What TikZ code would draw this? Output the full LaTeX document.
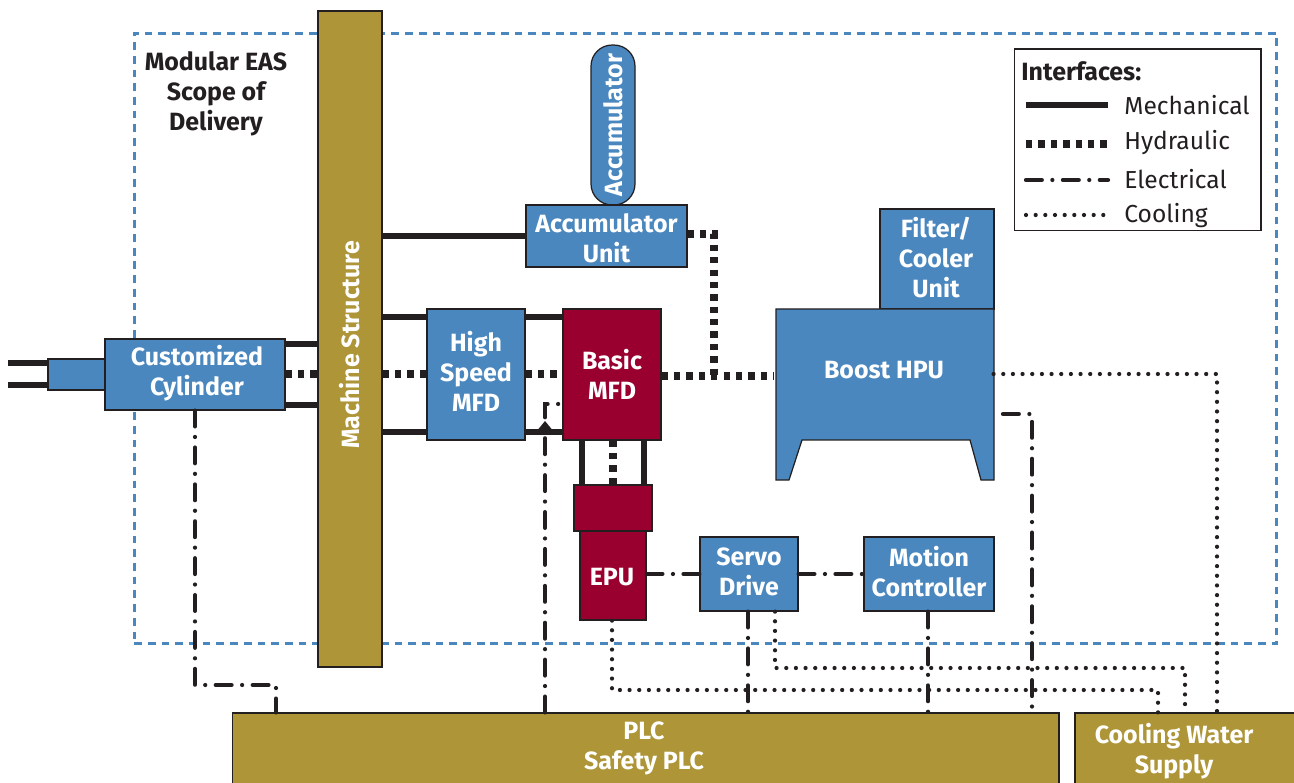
\documentclass[tikz,border=0pt]{standalone}
\usepackage{fontspec}
\usepackage{graphicx}
\setmainfont{Fira Sans}
\definecolor{easblue}{HTML}{4A87BE}
\definecolor{easred}{HTML}{990030}
\definecolor{easgold}{HTML}{AE9537}
\definecolor{easink}{HTML}{231F20}
\tikzset{
  boxsize/.style 2 args={minimum width=#1*0.569pt,minimum height=#2*0.569pt},
  box/.style={draw=easink,line width=.7pt,inner sep=0pt,align=center,text=white,
    font=\fontsize{14.2}{17}\selectfont\bfseries},
  bluebox/.style={box,fill=easblue},
  redbox/.style={box,fill=easred},
  goldbox/.style={box,fill=easgold},
  boxtext/.style={box,draw=none},
  mech/.style={draw=easink,line width=3.1pt},
  hydr/.style={draw=easink,line width=4.6pt,dash pattern=on 3.6pt off 3.45pt},
  elec/.style={draw=easink,line width=2.4pt,line cap=round,dash pattern=on 9pt off 6pt on 0pt off 6pt},
  cooling/.style={draw=easink,line width=2.4pt,line cap=round,dash pattern=on 0pt off 5.5pt},
  legendtext/.style={anchor=west,inner sep=0pt,text=easink,font=\fontsize{14}{17}\selectfont},
}
\begin{document}
\begin{tikzpicture}[x=0.02cm,y=-0.02cm]
\useasboundingbox (0,0) rectangle (1294,783);
\node (scope)[boxsize={1143}{611},draw=easblue,line width=1.7pt,dash pattern=on 4.4pt off 3.4pt] at (705.5,338.5) {};
\node (scopetext)[inner sep=0pt,align=center,text=easink,font=\fontsize{14.2}{17}\selectfont\bfseries] at (216,94) {Modular EAS\\Scope of\\Delivery};

% blocks
\node (mach)[goldbox,boxsize={64}{656}] at (350,339) {};
\node (rod)[bluebox,boxsize={57}{31}] at (76.5,374.5) {};
\node (cyl)[bluebox,boxsize={180}{71}] at (195,374.5) {};
\node (acc)[bluebox,boxsize={44}{160},rounded corners=12pt] at (613,125) {\rotatebox{90}{Accumulator}};
\node (accu)[bluebox,boxsize={161}{62}] at (606.5,236) {};
\node (hsmfd)[bluebox,boxsize={98}{131}] at (476,374.5) {};
\node (bmfd)[redbox,boxsize={98}{131}] at (612,374.5) {Basic\\MFD};
\node (epuh)[redbox,boxsize={78}{46}] at (613,508) {};
\node (epu)[redbox,boxsize={66}{89}] at (613,575.5) {};
\node (servo)[bluebox,boxsize={98}{74}] at (749,574) {};
\node (motion)[bluebox,boxsize={130}{74}] at (929,574) {};
\node (filter)[bluebox,boxsize={114}{100}] at (937,259) {};
\fill[easblue,draw=easink,line width=.7pt] (776,309) -- (994,309) -- (994,480) -- (981,480) -- (970,440)
  -- (802,440) -- (789,480) -- (776,480) -- cycle;
\node (boost)[boxtext,boxsize={218}{120}] at (884,370) {Boost HPU};
\node (plc)[goldbox,boxsize={827}{80}] at (645.5,753) {};
\node (water)[goldbox,boxsize={240}{80}] at (1195,753) {};

% texts
\node (machtext)[boxtext,rotate=90] at (350,345) {Machine Structure};
\foreach \name/\x/\y/\txt in {cyltext/197/373/{Customized\\Cylinder},accutext/606.5/238/{Accumulator\\Unit},
    hstext/476/371.5/{High\\Speed\\MFD},epitext/612/577/EPU,servotext/749/571.5/{Servo\\Drive},
    motiontext/929/571.5/{Motion\\Controller},filtertext/936/257.5/{Filter/\\Cooler\\Unit},
    plctext/644/748.5/{PLC\\Safety PLC},watertext/1174/751.5/{Cooling Water\\Supply}}
  \node (\name)[boxtext] at (\x,\y) {\txt};

% mechanical
\coordinate (rodupper) at (8,363);
\coordinate (rodlower) at (8,385);
\draw[mech] (rodupper) -- (rodupper -| rod.west);
\draw[mech] (rodlower) -- (rodlower -| rod.west);
\foreach \from/\to/\y in {cyl/mach/344,cyl/mach/405,mach/accu/236,mach/hsmfd/317,mach/hsmfd/432,hsmfd/bmfd/317,hsmfd/bmfd/432}
  \draw[mech] (\from.east |- 0,\y) -- (\to.west |- 0,\y);
\fill[easink] (536,432) .. controls (540,426) .. (545,421) .. controls (550,426) .. (554,432) -- cycle;
\foreach \x in {582,644}
  \draw[mech] (bmfd.south -| \x,0) -- (epuh.north -| \x,0);

% hydraulic
\foreach \from/\to/\y in {cyl/mach/374,mach/hsmfd/374,hsmfd/bmfd/374,bmfd/boost/376}
  \draw[hydr] (\from.east |- 0,\y) -- (\to.west |- 0,\y);
\draw[hydr] (bmfd.south -| 613,0) -- (epuh.north -| 613,0);
\draw[hydr] (accu.east |- 0,234) -- (714,234) -- (714,376);

% electrical
\draw[elec] (cyl.south) -- (195,685) -- (276,685) -- (plc.north -| 276,0);
\draw[elec] (plc.north -| 545,0) -- (545,404) -- (bmfd.west |- 0,404);
\foreach \from/\to/\y in {epu/servo/574,servo/motion/574}
  \draw[elec] (\from.east |- 0,\y) -- (\to.west |- 0,\y);
\foreach \from/\x in {servo/748,motion/928}
  \draw[elec] (\from.south -| \x,0) -- (plc.north -| \x,0);
\coordinate (boostelec) at (1003,414);
\draw[elec] (boostelec) -- (1032,414) -- (plc.north -| 1032,0);

% cooling
\draw[cooling] (boost.east |- 0,374) -- (1217,374) -- (water.north -| 1217,0);
\draw[cooling] (servo.south -| 775,0) -- (775,668) -- (1185,668) -- (water.north -| 1185,0);
\draw[cooling] (epu.south -| 612,0) -- (612,690) -- (1158,690) -- (water.north -| 1158,0);

% legend
\node (legend)[boxsize={247}{182},draw=easink,line width=.6pt,fill=white] at (1137.5,140) {};
\node (legendtitle)[legendtext,font=\fontsize{14.2}{17}\selectfont\bfseries] at (1021,71) {Interfaces:};
\foreach \name/\sty/\y/\ty/\txt in {lgm/mech/105/105/Mechanical,lgh/hydr/144/143/Hydraulic,lge/elec/180/179/Electrical,lgc/cooling/215/216/Cooling}{
  \node (\name)[legendtext] at (1124,\ty) {\txt};
  \coordinate (\name a) at (1026,\y);
  \coordinate (\name b) at (1108,\y);
  \draw[\sty] (\name a) -- (\name b);
}
\end{tikzpicture}
\end{document}
